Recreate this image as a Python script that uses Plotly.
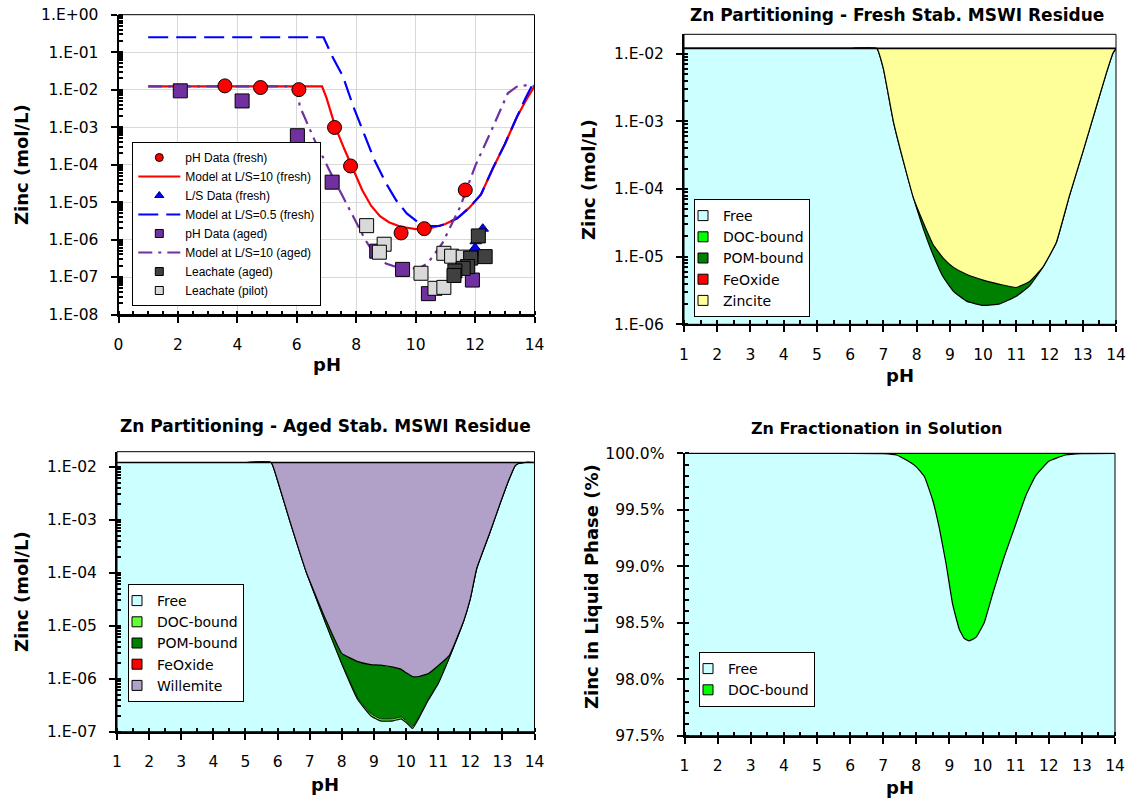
import plotly.graph_objects as go

W, H = 1128, 799

# ---------------- Panel 1 (top-left): measured data & model curves ----------------
ph_fresh = [3.58, 4.78, 6.07, 7.27, 7.81, 9.51, 10.29, 11.67]
zn_fresh = [1.26e-2, 1.14e-2, 1.0e-2, 9.8e-4, 9.2e-5, 1.5e-6, 1.95e-6, 2.1e-5]

ph_model10 = [1, 2, 3, 4, 5, 6, 6.85, 7.0, 7.3, 7.6, 7.9, 8.2, 8.5, 8.8, 9.1, 9.5, 10.0,
              10.5, 11.0, 11.4, 11.8, 12.2, 12.6, 13.0, 13.4, 13.7, 14.0]
zn_model10 = [1.23e-2, 1.23e-2, 1.23e-2, 1.23e-2, 1.23e-2, 1.23e-2, 1.23e-2, 6e-3, 1.0e-3,
              2.6e-4, 7e-5, 2.1e-5, 8e-6, 4.2e-6, 2.9e-6, 2.2e-6, 1.9e-6, 2.0e-6, 2.6e-6,
              3.7e-6, 7e-6, 1.6e-5, 8e-5, 3.5e-4, 1.8e-3, 5e-3, 1.23e-2]

ph_ls = [12.0, 12.0, 12.02, 12.26]
zn_ls = [4.5e-7, 6e-7, 9e-7, 1.95e-6]

ph_model05 = [1, 2, 3, 4, 5, 6, 6.9, 7.2, 7.55, 7.9, 8.25, 8.6, 9.0, 9.35, 9.7, 10.1, 10.5,
              10.8, 11.0, 11.4, 11.8, 12.2, 12.6, 13.0, 13.4, 13.7, 14.0]
zn_model05 = [0.25, 0.25, 0.25, 0.25, 0.25, 0.25, 0.25, 7.5e-2, 2.3e-2, 3.6e-3, 7e-4, 1.4e-4,
              3.2e-5, 1.1e-5, 5e-6, 2.8e-6, 2.3e-6, 2.3e-6, 2.6e-6, 3.7e-6, 7e-6, 1.6e-5,
              8e-5, 3.5e-4, 1.8e-3, 6e-3, 1.7e-2]

ph_aged = [2.08, 4.16, 6.02, 7.19, 8.69, 9.56, 10.43, 11.91]
zn_aged = [9.3e-3, 5.0e-3, 5.9e-4, 3.4e-5, 4.9e-7, 1.6e-7, 3.6e-8, 8.3e-8]

ph_model_aged = [1, 2, 3, 4, 5, 6.0, 6.1, 6.6, 7.2, 7.8, 8.3, 8.6, 9.0, 9.5, 10.1, 10.4,
                 10.9, 11.5, 12.0, 12.6, 13.1, 13.4, 13.7, 14.0]
zn_model_aged = [1.23e-2, 1.23e-2, 1.23e-2, 1.23e-2, 1.23e-2, 1.23e-2, 3.6e-3, 4.5e-4, 4.8e-5,
                 6e-6, 1e-6, 4.2e-7, 2.3e-7, 1.7e-7, 1.7e-7, 2.3e-7, 8e-7, 7.5e-6, 9e-5,
                 1e-3, 8e-3, 1.2e-2, 1.3e-2, 1.25e-2]

ph_leach_pilot = [8.35, 8.94, 8.78, 10.18, 10.65, 10.95, 10.95, 11.21, 11.6]
zn_leach_pilot = [2.35e-6, 7.5e-7, 4.6e-7, 1.26e-7, 5e-8, 5.3e-8, 4.3e-7, 3.6e-7, 3.4e-7]

ph_leach_aged = [12.11, 12.34, 11.85, 11.75, 11.6, 11.32, 11.29]
zn_leach_aged = [1.25e-6, 3.5e-7, 3.2e-7, 1.9e-7, 1.7e-7, 1.45e-7, 1.1e-7]

# ---------------- Panel 2 (top-right): fresh partitioning (cumulative boundaries) ----------------
ph_fr = [1, 2, 3, 4, 5, 6, 6.8, 7.0, 7.3, 7.6, 7.9, 8.2, 8.5, 8.8, 9.1, 9.5, 10.0, 10.5,
         11.0, 11.4, 11.8, 12.2, 12.6, 13.0, 13.4, 13.7, 13.9, 14.0]
fr_free = [1.2e-2, 1.2e-2, 1.2e-2, 1.2e-2, 1.2e-2, 1.2e-2, 1.2e-2, 6e-3, 1.0e-3, 2.6e-4, 7.5e-5,
           2.6e-5, 1.05e-5, 5e-6, 3.1e-6, 2.2e-6, 1.9e-6, 2.0e-6, 2.6e-6, 3.7e-6, 7e-6,
           1.6e-5, 8e-5, 3.5e-4, 1.6e-3, 5e-3, 1.0e-2, 1.2e-2]
fr_to_pom = [1.2e-2, 1.2e-2, 1.2e-2, 1.2e-2, 1.2e-2, 1.2e-2, 1.2e-2, 6e-3, 1.0e-3, 2.6e-4, 7.5e-5,
             3.2e-5, 1.5e-5, 9.5e-6, 7e-6, 5.5e-6, 4.5e-6, 3.9e-6, 3.5e-6, 4.3e-6, 7e-6,
             1.6e-5, 8e-5, 3.5e-4, 1.6e-3, 5e-3, 1.0e-2, 1.2e-2]
fr_total = [1.2e-2] * 28

# ---------------- Panel 3 (bottom-left): aged partitioning (cumulative boundaries) ----------------
ph_ag = [1, 2, 3, 4, 5, 5.8, 6.0, 6.4, 6.9, 7.5, 8.0, 8.5, 8.9, 9.2, 9.6, 9.85, 10.0, 10.2,
         10.4, 10.7, 11.0, 11.35, 11.8, 12.0, 12.2, 12.6, 12.9, 13.2, 13.4, 13.5, 13.7, 14.0]
ag_free = [1.2e-2, 1.2e-2, 1.2e-2, 1.2e-2, 1.2e-2, 1.2e-2, 5.5e-3, 8.7e-4, 1.0e-4, 1.1e-5,
           1.9e-6, 4e-7, 2.0e-7, 1.6e-7, 1.6e-7, 1.75e-7, 1.5e-7, 1.15e-7, 1.8e-7, 4e-7,
           8e-7, 2.5e-6, 1.25e-5, 3.2e-5, 1.2e-4, 5.5e-4, 1.8e-3, 5.6e-3, 1.05e-2, 1.15e-2,
           1.2e-2, 1.2e-2]
ag_to_doc = [1.2e-2, 1.2e-2, 1.2e-2, 1.2e-2, 1.2e-2, 1.2e-2, 5.5e-3, 8.7e-4, 1.0e-4, 1.1e-5,
             1.95e-6, 4.3e-7, 2.2e-7, 1.75e-7, 1.75e-7, 1.9e-7, 1.62e-7, 1.24e-7, 1.92e-7,
             4.2e-7, 8.2e-7, 2.5e-6, 1.25e-5, 3.2e-5, 1.2e-4, 5.5e-4, 1.8e-3, 5.6e-3,
             1.05e-2, 1.15e-2, 1.2e-2, 1.2e-2]
ag_to_pom = [1.2e-2, 1.2e-2, 1.2e-2, 1.2e-2, 1.2e-2, 1.2e-2, 5.5e-3, 8.7e-4, 1.0e-4, 1.3e-5,
             3.0e-6, 2.1e-6, 1.85e-6, 1.8e-6, 1.65e-6, 1.5e-6, 1.3e-6, 1.1e-6, 1.1e-6,
             1.25e-6, 1.75e-6, 2.75e-6, 1.25e-5, 3.2e-5, 1.2e-4, 5.5e-4, 1.8e-3, 5.6e-3,
             1.05e-2, 1.15e-2, 1.2e-2, 1.2e-2]
ag_total = [1.2e-2] * 32

# ---------------- Panel 4 (bottom-right): fractionation in solution (%) ----------------
ph_sol = [1, 2, 3, 4, 5, 6, 7.0, 7.4, 7.7, 8.0, 8.25, 8.5, 8.7, 8.9, 9.1, 9.3, 9.45, 9.6,
          9.8, 10.05, 10.3, 10.65, 11.0, 11.3, 11.6, 12.0, 12.5, 13.0, 14.0]
sol_free = [100, 100, 100, 100, 100, 100, 99.998, 99.985, 99.94, 99.88, 99.79, 99.58, 99.33,
            99.02, 98.66, 98.44, 98.36, 98.34, 98.37, 98.5, 98.75, 99.08, 99.37, 99.62,
            99.8, 99.93, 99.985, 99.998, 100]
sol_total = [100] * 29

log_vals = [1e-8, 1e-7, 1e-6, 1e-5, 1e-4, 1e-3, 1e-2, 1e-1, 1]
log_text = ["1.E-08", "1.E-07", "1.E-06", "1.E-05", "1.E-04", "1.E-03", "1.E-02", "1.E-01", "1.E+00"]

CYAN = "#CCFFFF"
YELLOW = "#FFFF99"
DKGREEN = "#008000"
LTGREEN = "#00FF00"
DOCGREEN3 = "#66FF33"
RED = "#FF0000"
WILLEMITE = "#B1A0C7"
PURPLE = "#7030A0"
BLUE = "#0000FF"

TICKFONT = dict(family="DejaVu Sans", size=15.5, color="black")

fig = go.Figure()

# ---- Panel 1 traces (data marks, legend drawn from small-symbol legend entries) ----
fig.add_trace(go.Scatter(x=ph_model10, y=zn_model10, mode="lines", name="Model at L/S=10 (fresh)",
                         line=dict(color=RED, width=2.2), legend="legend", legendrank=2,
                         xaxis="x", yaxis="y"))
fig.add_trace(go.Scatter(x=ph_model05, y=zn_model05, mode="lines", name="Model at L/S=0.5 (fresh)",
                         line=dict(color=BLUE, width=2.2, dash="20px,8px"), legend="legend",
                         legendrank=4, xaxis="x", yaxis="y"))
fig.add_trace(go.Scatter(x=ph_model_aged, y=zn_model_aged, mode="lines", name="Model at L/S=10 (aged)",
                         line=dict(color=PURPLE, width=2.2, dash="14px,6px,3px,6px"), legend="legend",
                         legendrank=6, xaxis="x", yaxis="y"))

marker_series = [
    ("pH Data (aged)", ph_aged, zn_aged, "square", 14, PURPLE, "black", 5),
    ("Leachate (pilot)", ph_leach_pilot, zn_leach_pilot, "square", 14, "#D9D9D9", "black", 8),
    ("L/S Data (fresh)", ph_ls, zn_ls, "triangle-up", 10, BLUE, "#000080", 3),
    ("Leachate (aged)", ph_leach_aged, zn_leach_aged, "square", 14, "#404040", "black", 7),
    ("pH Data (fresh)", ph_fresh, zn_fresh, "circle", 14, RED, "black", 1),
]
for name, xs, ys, sym, size, col, lcol, rank in marker_series:
    fig.add_trace(go.Scatter(x=xs, y=ys, mode="markers", name=name, showlegend=False,
                             marker=dict(symbol=sym, size=size, color=col, line=dict(color=lcol, width=1)),
                             xaxis="x", yaxis="y"))
    fig.add_trace(go.Scatter(x=[None], y=[None], mode="markers", name=name, legend="legend",
                             legendrank=rank, xaxis="x", yaxis="y",
                             marker=dict(symbol=sym, size=8, color=col, line=dict(color=lcol, width=1))))

# ---- area helper ----
def area(x, y, fill, color, xa, ya, lw=1.2, shape="linear"):
    return go.Scatter(x=x, y=y, mode="lines", fill=fill, fillcolor=color,
                      line=dict(color="black", width=lw, shape=shape, smoothing=0.35),
                      showlegend=False, xaxis=xa, yaxis=ya, hoverinfo="skip")

def swatch(name, color, leg, rank, xa, ya):
    return go.Scatter(x=[None], y=[None], mode="markers", name=name, legend=leg, legendrank=rank,
                      xaxis=xa, yaxis=ya,
                      marker=dict(symbol="square", size=10, color=color, line=dict(color="black", width=1)))

# ---- Panel 2 (fresh partitioning) ----
fig.add_trace(area(ph_fr, fr_free, "tozeroy", CYAN, "x2", "y2", shape="spline"))
fig.add_trace(area(ph_fr, fr_to_pom, "tonexty", DKGREEN, "x2", "y2", shape="spline"))
fig.add_trace(area(ph_fr, fr_total, "tonexty", YELLOW, "x2", "y2", lw=1.6))
for i, (n, c) in enumerate([("Free", CYAN), ("DOC-bound", LTGREEN), ("POM-bound", DKGREEN),
                            ("FeOxide", RED), ("Zincite", YELLOW)]):
    fig.add_trace(swatch(n, c, "legend2", i + 1, "x2", "y2"))

# ---- Panel 3 (aged partitioning) ----
fig.add_trace(area(ph_ag, ag_free, "tozeroy", CYAN, "x3", "y3", shape="spline"))
fig.add_trace(area(ph_ag, ag_to_doc, "tonexty", DOCGREEN3, "x3", "y3", lw=0.8, shape="spline"))
fig.add_trace(area(ph_ag, ag_to_pom, "tonexty", DKGREEN, "x3", "y3", shape="spline"))
fig.add_trace(area(ph_ag, ag_total, "tonexty", WILLEMITE, "x3", "y3", lw=1.6))
for i, (n, c) in enumerate([("Free", CYAN), ("DOC-bound", DOCGREEN3), ("POM-bound", DKGREEN),
                            ("FeOxide", RED), ("Willemite", WILLEMITE)]):
    fig.add_trace(swatch(n, c, "legend3", i + 1, "x3", "y3"))

# ---- Panel 4 (fraction in solution) ----
fig.add_trace(area(ph_sol, sol_free, "tozeroy", CYAN, "x4", "y4", shape="spline"))
fig.add_trace(area(ph_sol, sol_total, "tonexty", LTGREEN, "x4", "y4"))
for i, (n, c) in enumerate([("Free", CYAN), ("DOC-bound", LTGREEN)]):
    fig.add_trace(swatch(n, c, "legend4", i + 1, "x4", "y4"))

# ---------------- layout ----------------
def PX(px):
    return px / W

def PY(py):
    return 1 - py / H

def dom_x(p0, p1):
    return [PX(p0), PX(p1)]

def dom_y(top, bottom):
    return [PY(bottom), PY(top)]

common_axis = dict(showline=True, linecolor="black", linewidth=2, ticks="outside", ticklen=6,
                   tickwidth=1.5, tickcolor="black", tickfont=TICKFONT, zeroline=False,
                   ticklabelstandoff=9, automargin=False)

def xax(domain, anchor, rng, dtick, minor_dtick, grid=False):
    d = dict(common_axis)
    d.update(domain=domain, anchor=anchor, range=rng, dtick=dtick, tick0=0,
             showgrid=grid, gridcolor="#D9D9D9", gridwidth=1,
             minor=dict(ticks="inside", ticklen=4, tickcolor="black", dtick=minor_dtick, showgrid=False))
    return d

def ylog(domain, anchor, rng, grid=False):
    d = dict(common_axis)
    d.update(domain=domain, anchor=anchor, type="log", range=rng, tickmode="array",
             tickvals=log_vals, ticktext=log_text, showgrid=grid, gridcolor="#D9D9D9", gridwidth=1,
             minor=dict(ticks="inside", ticklen=4, tickcolor="black", dtick="D1", showgrid=False))
    return d

# inner halves of the crossing major ticks (overlay axes without labels)
def x_inner(over, anchor, domain, rng, dtick):
    return dict(overlaying=over, anchor=anchor, domain=domain, range=rng, dtick=dtick, tick0=0,
                ticks="inside", ticklen=6, tickwidth=1.5, tickcolor="black", showticklabels=False,
                showline=False, showgrid=False, zeroline=False, automargin=False)

def y_inner_log(over, anchor, domain, rng):
    return dict(overlaying=over, anchor=anchor, domain=domain, type="log", range=rng,
                tickmode="array", tickvals=log_vals, ticks="inside", ticklen=6, tickwidth=1.5,
                tickcolor="black", showticklabels=False, showline=False, showgrid=False,
                zeroline=False, automargin=False)

# pixel geometry of the four plot areas
P1 = (118.5, 534.5, 14.7, 314.5)
P2 = (684.0, 1116.0, 34.3, 324.3)
P3 = (117.0, 534.5, 451.7, 731.7)
P4 = (684.5, 1115.0, 453.3, 735.7)

R1, R2, R3 = [-8, 0.0001], [-6, -1.7132], [-7, -1.717]

layout_axes = dict(
    xaxis=xax(dom_x(P1[0], P1[1]), "y", [0, 14], 2, 0.5, grid=True),
    yaxis=ylog(dom_y(P1[2], P1[3]), "x", R1, grid=True),
    xaxis2=xax(dom_x(P2[0], P2[1]), "y2", [1, 14], 1, 0.5),
    yaxis2=ylog(dom_y(P2[2], P2[3]), "x2", R2),
    xaxis3=xax(dom_x(P3[0], P3[1]), "y3", [1, 14], 1, 0.5),
    yaxis3=ylog(dom_y(P3[2], P3[3]), "x3", R3),
    xaxis4=xax(dom_x(P4[0], P4[1]), "y4", [1, 14], 1, 0.5),
    yaxis4=dict(common_axis, domain=dom_y(P4[2], P4[3]), anchor="x4", range=[97.5, 100],
                dtick=0.5, tick0=97.5, tickformat=".1f", ticksuffix="%", showgrid=False,
                minor=dict(ticks="inside", ticklen=4, tickcolor="black", dtick=0.1, showgrid=False)),
    xaxis5=x_inner("x", "y", dom_x(P1[0], P1[1]), [0, 14], 2),
    yaxis5=y_inner_log("y", "x", dom_y(P1[2], P1[3]), R1),
    xaxis6=x_inner("x2", "y2", dom_x(P2[0], P2[1]), [1, 14], 1),
    yaxis6=y_inner_log("y2", "x2", dom_y(P2[2], P2[3]), R2),
    xaxis7=x_inner("x3", "y3", dom_x(P3[0], P3[1]), [1, 14], 1),
    yaxis7=y_inner_log("y3", "x3", dom_y(P3[2], P3[3]), R3),
    xaxis8=x_inner("x4", "y4", dom_x(P4[0], P4[1]), [1, 14], 1),
    yaxis8=dict(overlaying="y4", anchor="x4", domain=dom_y(P4[2], P4[3]), range=[97.5, 100],
                dtick=0.5, tick0=97.5, ticks="inside", ticklen=6, tickwidth=1.5, tickcolor="black",
                showticklabels=False, showline=False, showgrid=False, zeroline=False, automargin=False),
)

fig.update_layout(
    template="none",
    width=W, height=H, margin=dict(l=0, r=0, t=0, b=0, autoexpand=False),
    paper_bgcolor="white", plot_bgcolor="rgba(0,0,0,0)",
    font=dict(family="DejaVu Sans", color="black"),
    legend=dict(x=PX(132.3), y=PY(306), xanchor="left", yanchor="bottom",
                bgcolor="white", bordercolor="black", borderwidth=1, itemwidth=42,
                font=dict(family="Liberation Sans", size=12, color="black"),
                traceorder="normal", tracegroupgap=0),
    legend2=dict(x=PX(694), y=PY(199), xanchor="left", yanchor="top",
                 bgcolor="white", bordercolor="black", borderwidth=1,
                 font=dict(family="DejaVu Sans", size=14, color="black"), indentation=-12),
    legend3=dict(x=PX(128), y=PY(584), xanchor="left", yanchor="top",
                 bgcolor="white", bordercolor="black", borderwidth=1,
                 font=dict(family="DejaVu Sans", size=14, color="black"), indentation=-12),
    legend4=dict(x=PX(699), y=PY(652), xanchor="left", yanchor="top",
                 bgcolor="white", bordercolor="black", borderwidth=1,
                 font=dict(family="DejaVu Sans", size=14, color="black"), indentation=-12),
    **layout_axes,
)

# thin frame around each plot area
for xa, ya in [("x", "y"), ("x2", "y2"), ("x3", "y3"), ("x4", "y4")]:
    fig.add_shape(type="rect", xref=f"{xa} domain", yref=f"{ya} domain", x0=0, x1=1, y0=0, y1=1,
                  line=dict(color="black", width=1), layer="above")

def ann(text, px, py, size, angle=0, bold=True):
    fig.add_annotation(text=f"<b>{text}</b>" if bold else text, x=PX(px), y=PY(py),
                       xref="paper", yref="paper", showarrow=False, textangle=angle,
                       xanchor="center", yanchor="middle",
                       font=dict(family="DejaVu Sans", size=size, color="black"))

# chart titles
ann("Zn Partitioning - Fresh Stab. MSWI Residue", 897, 15, 17)
ann("Zn Partitioning - Aged Stab. MSWI Residue", 325, 426, 17)
ann("Zn Fractionation in Solution", 876, 428, 16)
# axis titles
ann("pH", 326.5, 364, 18)
ann("pH", 900, 375, 18)
ann("pH", 325, 784, 18)
ann("pH", 900, 787, 18)
ann("Zinc (mol/L)", 22, 165, 18, angle=-90)
ann("Zinc (mol/L)", 588, 180, 18, angle=-90)
ann("Zinc (mol/L)", 21, 592, 18, angle=-90)
ann("Zinc in Liquid Phase (%)", 591, 587, 18, angle=-90)

# remove the default page margin so the figure sits at the window's top-left corner
fig.write_html("out.html", config={"displayModeBar": False},
               post_script="document.body.style.margin='0';")
